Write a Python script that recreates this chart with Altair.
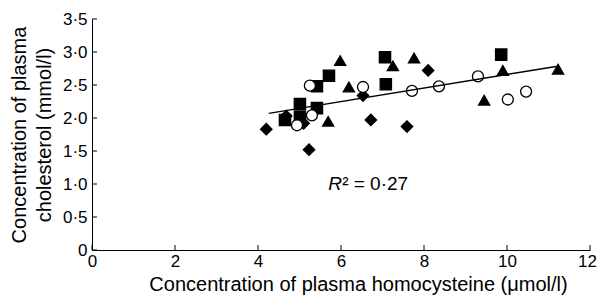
import altair as alt
import pandas as pd

# ---- data ----
x_ticks = [0, 2, 4, 6, 8, 10, 12]
y_ticks = [0, 0.5, 1.0, 1.5, 2.0, 2.5, 3.0, 3.5]

diamond_x = [4.20, 4.68, 5.10, 5.23, 6.53, 6.72, 7.59, 8.10]
diamond_y = [1.83, 2.03, 1.92, 1.52, 2.34, 1.97, 1.87, 2.72]

square_x = [4.65, 5.01, 5.01, 5.42, 5.42, 5.71, 7.06, 7.08, 9.86]
square_y = [1.97, 2.21, 2.02, 2.15, 2.48, 2.64, 2.92, 2.51, 2.96]

triangle_x = [5.69, 5.98, 6.19, 7.25, 7.76, 9.45, 9.90, 11.23]
triangle_y = [1.95, 2.87, 2.47, 2.79, 2.91, 2.27, 2.72, 2.74]

circle_x = [4.94, 5.25, 5.30, 6.53, 7.71, 8.36, 9.30, 10.02, 10.46]
circle_y = [1.89, 2.49, 2.04, 2.47, 2.41, 2.48, 2.63, 2.28, 2.40]

fit_x = [4.26, 11.18]
fit_y = [2.07, 2.78]

note_x = [5.69]
note_y = [0.91]

groups = ["diamond", "square", "triangle", "circle"]

rows = []
for g, xs, ys in [("diamond", diamond_x, diamond_y), ("square", square_x, square_y),
                  ("triangle", triangle_x, triangle_y), ("circle", circle_x, circle_y)]:
    for a, b in zip(xs, ys):
        rows.append({"x": a, "y": b, "group": g})
pts = pd.DataFrame(rows)

FONT = "Liberation Sans"
W, H = 498, 231
xsc = alt.Scale(domain=[0, 12], nice=False, zero=False)
ysc = alt.Scale(domain=[0, 3.5], nice=False)

xaxis = alt.Axis(values=x_ticks, ticks=False, grid=False, domainColor="black",
                 labelFont=FONT, labelFontSize=17, labelColor="black", labelPadding=3,
                 labelFlush=False,
                 labelOffset={"condition": {"test": "datum.value == 12", "value": -3}, "value": 0},
                 title="Concentration of plasma homocysteine (μmol/l)",
                 titleFont=FONT, titleFontSize=20, titleFontWeight="normal",
                 titleColor="black", titleX=266, titleY=40, titleBaseline="alphabetic")
yaxis = alt.Axis(values=y_ticks, ticks=False, grid=False, domainColor="black",
                 labelFont=FONT, labelFontSize=17, labelColor="black", labelPadding=5,
                 labelFlush=False,
                 labelExpr="datum.value == 0 ? '0' : replace(format(datum.value, '.1f'), '.', '·')",
                 title=["Concentration of plasma", "cholesterol (mmol/l)"],
                 titleFont=FONT, titleFontSize=20, titleFontWeight="normal",
                 titleColor="black", titleX=-73, titleY=H / 2, titleAngle=270,
                 titleAlign="center", titleBaseline="middle", titleLineHeight=25)

points = alt.Chart(pts).mark_point(filled=True, strokeWidth=1.3, opacity=1).encode(
    x=alt.X("x:Q", scale=xsc, axis=xaxis),
    y=alt.Y("y:Q", scale=ysc, axis=yaxis),
    shape=alt.Shape("group:N", scale=alt.Scale(domain=groups,
                    range=["diamond", "square", "triangle-up", "circle"]), legend=None),
    fill=alt.Fill("group:N", scale=alt.Scale(domain=groups,
                  range=["black", "black", "black", "white"]), legend=None),
    size=alt.Size("group:N", scale=alt.Scale(domain=groups,
                  range=[130, 121, 150, 110]), legend=None),
    stroke=alt.value("black"),
    order=alt.Order("order:Q"),
).transform_calculate(order="datum.group == 'circle' ? 1 : 0")

fit = alt.Chart(pd.DataFrame({"x": fit_x, "y": fit_y})).mark_line(
    color="black", strokeWidth=1.5).encode(
    x=alt.X("x:Q", scale=xsc, axis=xaxis),
    y=alt.Y("y:Q", scale=ysc, axis=yaxis),
)

xt = alt.Chart(pd.DataFrame({"x": x_ticks})).mark_rule(color="black", strokeWidth=1).encode(
    x=alt.X("x:Q", scale=xsc, axis=xaxis),
    y=alt.value(H), y2=alt.value(H - 5),
)
yt = alt.Chart(pd.DataFrame({"y": y_ticks})).mark_rule(color="black", strokeWidth=1).encode(
    y=alt.Y("y:Q", scale=ysc, axis=yaxis),
    x=alt.value(0), x2=alt.value(5),
)

note = pd.DataFrame({"x": note_x, "y": note_y})
r_txt = alt.Chart(note).mark_text(text="R", font=FONT, fontSize=19, fontStyle="italic",
                                  align="left", baseline="alphabetic", color="black").encode(
    x=alt.X("x:Q", scale=xsc, axis=xaxis),
    y=alt.Y("y:Q", scale=ysc, axis=yaxis),
)
r_rest = alt.Chart(note).mark_text(text="² = 0·27", font=FONT, fontSize=19, dx=14,
                                   align="left", baseline="alphabetic", color="black").encode(
    x=alt.X("x:Q", scale=xsc, axis=xaxis),
    y=alt.Y("y:Q", scale=ysc, axis=yaxis),
)

chart = alt.layer(points, fit, xt, yt, r_txt, r_rest).properties(
    width=W, height=H,
    autosize=alt.AutoSizeParams(type="none"),
    padding={"left": 84, "top": 11, "right": 7, "bottom": 47},
).configure_view(stroke=None)

chart.save("out.html", embed_options={"renderer": "svg", "actions": False})
